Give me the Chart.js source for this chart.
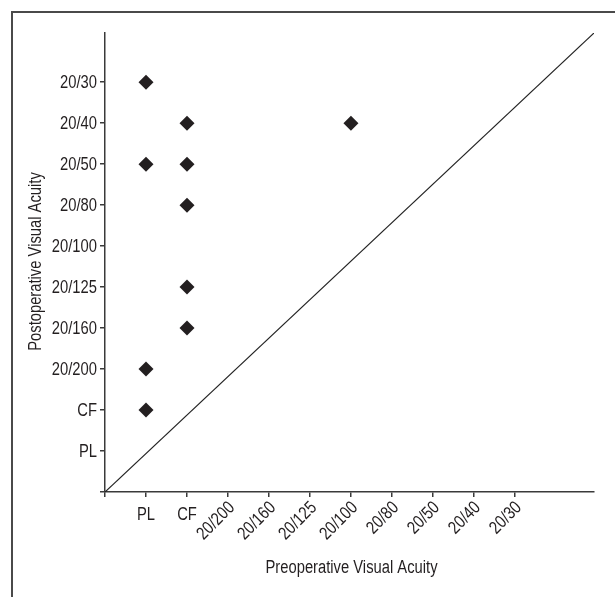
<!DOCTYPE html>
<html>
<head>
<meta charset="utf-8">
<script src="https://cdn.jsdelivr.net/npm/chart.js@4.4.1/dist/chart.umd.min.js"></script>
<style>
  html, body { margin: 0; padding: 0; background: #fff; overflow: hidden; }
  #wrap { position: relative; width: 615px; height: 597px; }
  /* marco del panel, sale por la derecha y por abajo */
  #frame { position: absolute; left: 11px; top: 11px; width: 800px; height: 800px; border: 2px solid #4a4a4a; }
  canvas { position: absolute; left: 0; top: 0; }
</style>
</head>
<body>
<div id="wrap">
  <div id="frame"></div>
  <canvas id="chart" width="615" height="597"></canvas>
</div>
<script>
// Etiquetas de los ejes (indice 0 vacio = origen)
const xTickLabels = ['', 'PL', 'CF', '20/200', '20/160', '20/125', '20/100', '20/80', '20/50', '20/40', '20/30'];
const yTickLabels = ['', 'PL', 'CF', '20/200', '20/160', '20/125', '20/100', '20/80', '20/50', '20/40', '20/30'];

// Agudeza visual de cada ojo
const preopAcuity  = ['PL', 'PL', 'PL', 'PL', 'CF', 'CF', 'CF', 'CF', 'CF', '20/100'];
const postopAcuity = ['20/30', '20/50', '20/200', 'CF', '20/40', '20/50', '20/80', '20/125', '20/160', '20/40'];

const xTitle = 'Preoperative Visual Acuity';
const yTitle = 'Postoperative Visual Acuity';

// Extension de los ejes y linea diagonal
const xMax = 11.93;
const yMax = 11.2;
const diagonalX = [0, xMax];
const diagonalY = [0, yMax];

// No hay fuente estrecha instalada: se estrecha Liberation Sans a mano
const FONT = "18px 'Liberation Sans', Arial, sans-serif";
const NARROW = 0.82;
const INK = '#231f20';
const AXIS = '#3a3a3a';

const points = preopAcuity.map((p, i) => ({
    x: xTickLabels.indexOf(p),
    y: yTickLabels.indexOf(postopAcuity[i])
}));

function narrowText(ctx, text, x, y, align, baseline, angle) {
    ctx.save();
    ctx.translate(x, y);
    if (angle) ctx.rotate(angle);
    ctx.scale(NARROW, 1);
    ctx.textAlign = align;
    ctx.textBaseline = baseline;
    ctx.fillText(text, 0, 0);
    ctx.restore();
}

// Etiquetas y titulos de los ejes
const labelPlugin = {
    id: 'axisLabels',
    afterDraw(chart) {
        const xs = chart.scales.x;
        const ys = chart.scales.y;
        const area = chart.chartArea;
        const ctx = chart.ctx;
        ctx.save();
        ctx.fillStyle = INK;
        ctx.font = FONT;

        // eje X: PL y CF horizontales, el resto a 45 grados
        xTickLabels.forEach((label, i) => {
            if (!label) return;
            const px = xs.getPixelForValue(i);
            if (label === 'PL' || label === 'CF') {
                narrowText(ctx, label, px, area.bottom + 28, 'center', 'alphabetic');
            } else {
                narrowText(ctx, label, px + 4, area.bottom + 13, 'right', 'middle', -Math.PI / 4);
            }
        });

        // eje Y
        yTickLabels.forEach((label, i) => {
            if (!label) return;
            const py = ys.getPixelForValue(i);
            narrowText(ctx, label, area.left - 8, py + 1, 'right', 'middle');
        });

        // titulos
        narrowText(ctx, xTitle, (area.left + area.right) / 2 + 2, 568, 'center', 'middle');
        narrowText(ctx, yTitle, 36, (area.top + area.bottom) / 2 - 1, 'center', 'middle', -Math.PI / 2);
        ctx.restore();
    }
};

new Chart(document.getElementById('chart').getContext('2d'), {
    type: 'scatter',
    data: {
        datasets: [
            {
                label: 'Ojos',
                data: points,
                pointStyle: 'rectRot',
                pointRadius: 7.5,
                pointHoverRadius: 7.5,
                backgroundColor: INK,
                borderWidth: 0
            },
            {
                type: 'line',
                label: 'Igualdad',
                data: diagonalX.map((x, i) => ({ x: x, y: diagonalY[i] })),
                borderColor: '#222',
                borderWidth: 1.2,
                pointRadius: 0,
                fill: false
            }
        ]
    },
    options: {
        responsive: false,
        animation: false,
        layout: { padding: { left: 0, top: 33, right: 21, bottom: 0 } },
        plugins: {
            legend: { display: false },
            tooltip: { enabled: false }
        },
        scales: {
            x: {
                type: 'linear',
                min: 0,
                max: xMax,
                afterBuildTicks: scale => {
                    scale.ticks = xTickLabels.map((_, i) => ({ value: i }));
                },
                afterFit: scale => { scale.height = 105; },
                ticks: { display: false },
                grid: { drawOnChartArea: false, drawTicks: true, tickLength: 5, color: AXIS, lineWidth: 1.5 },
                border: { display: true, color: AXIS, width: 1.5 }
            },
            y: {
                type: 'linear',
                min: 0,
                max: yMax,
                afterBuildTicks: scale => {
                    scale.ticks = yTickLabels.map((_, i) => ({ value: i }));
                },
                afterFit: scale => { scale.width = 105; },
                ticks: { display: false },
                grid: { drawOnChartArea: false, drawTicks: true, tickLength: 5, color: AXIS, lineWidth: 1.5 },
                border: { display: true, color: AXIS, width: 1.5 }
            }
        }
    },
    plugins: [labelPlugin]
});
</script>
</body>
</html>
